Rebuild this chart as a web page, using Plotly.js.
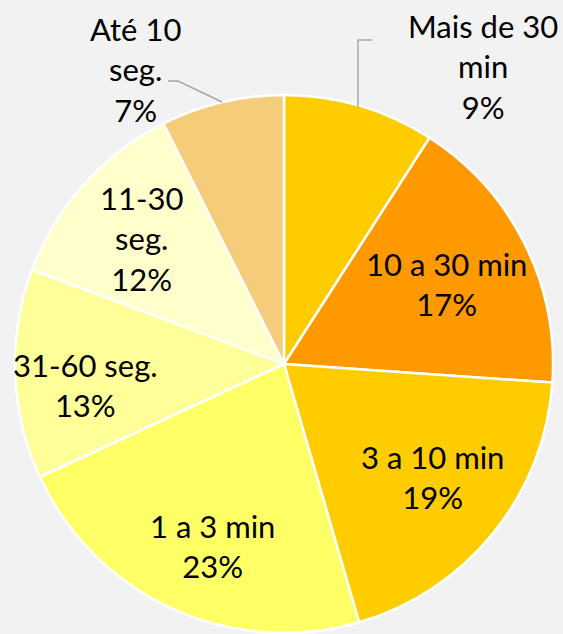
<!DOCTYPE html>
<html><head><meta charset="utf-8">
<script src="https://cdn.plot.ly/plotly-3.0.1.min.js"></script>
<style>html,body{margin:0;padding:0;background:#f2f2f2;}</style>
</head><body>
<div id="chart" style="width:563px;height:634px;"></div>
<script>
const labels = ["Mais de 30<br>min", "10 a 30 min", "3 a 10 min", "1 a 3 min", "31-60 seg.", "11-30<br>seg.", "Até 10<br>seg."];
const values = [9.1, 17.0, 19.4, 22.6, 12.6, 11.9, 7.4];
const colors = ["#FFCC00", "#FF9900", "#FFCC00", "#FFFF66", "#FFFF99", "#FFFFCC", "#F5CC79"];

const W = 563, H = 634;
// label anchor positions (pixels, centre of text block) — layout only
const labelPos = [[483, 66], [446, 284], [432, 477], [212, 546], [85, 385], [141, 238], [135, 69]];

const total = values.reduce((a, b) => a + b, 0);
const pct = values.map(v => Math.round(v / total * 100) + "%");

const trace = {
  type: "pie",
  labels: labels,
  values: values,
  sort: false,
  direction: "clockwise",
  rotation: 0,
  marker: {colors: colors, line: {color: "#ffffff", width: 2.5}},
  textinfo: "none",
  hoverinfo: "label+percent",
  showlegend: false,
  domain: {x: [15 / W, 553 / W], y: [1 / H, 539 / H]}
};

const annotations = labels.map((lab, i) => ({
  xref: "paper", yref: "paper",
  x: labelPos[i][0] / W, y: 1 - labelPos[i][1] / H,
  xanchor: "center", yanchor: "middle",
  text: lab + "<br>" + pct[i],
  showarrow: false,
  align: "center",
  font: {family: "Lato, sans-serif", size: 31, color: "#000000"}
}));

const P = (x, y) => (x / W) + "," + (1 - y / H);
const leaderStyle = {color: "#A6A6A6", width: 1.5};
const shapes = [
  {type: "path", xref: "paper", yref: "paper", path: "M" + P(358, 107) + " L" + P(358, 40) + " L" + P(372, 40), line: leaderStyle},
  {type: "path", xref: "paper", yref: "paper", path: "M" + P(222, 102) + " L" + P(178, 81) + " L" + P(168, 81), line: leaderStyle}
];

const layout = {
  width: W, height: H,
  margin: {l: 0, r: 0, t: 0, b: 0},
  paper_bgcolor: "#f2f2f2",
  plot_bgcolor: "#f2f2f2",
  showlegend: false,
  annotations: annotations,
  shapes: shapes
};

Plotly.newPlot("chart", [trace], layout, {displayModeBar: false, staticPlot: true});
</script>
</body></html>
